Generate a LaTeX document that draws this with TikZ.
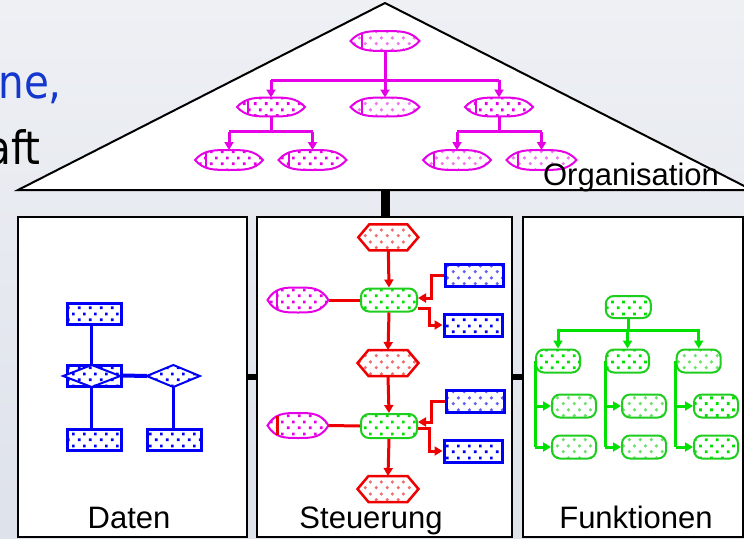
\documentclass[tikz,border=0pt]{standalone}
\usepackage{fontspec}
\setmainfont{Liberation Sans}
\newfontfamily\bgfont[FakeStretch=0.88]{DejaVu Sans}
\usetikzlibrary{arrows.meta,patterns.meta}

\definecolor{mag}{RGB}{230,0,230}
\definecolor{magl}{RGB}{240,120,240}
\definecolor{rd}{RGB}{238,0,0}
\definecolor{rdl}{RGB}{240,110,110}
\definecolor{bl}{RGB}{0,0,245}
\definecolor{bll}{RGB}{100,100,240}
\definecolor{gr}{RGB}{0,225,0}
\definecolor{grb}{RGB}{30,205,30}
\definecolor{grl}{RGB}{110,225,110}
\definecolor{txtblue}{RGB}{20,55,205}
\definecolor{bgtop}{RGB}{238,240,244}
\definecolor{bgbot}{RGB}{222,226,235}

\tikzdeclarepattern{
  name=sqdots, type=uncolored,
  bounding box={(0pt,0pt) and (11pt,12pt)},
  tile size={(11pt,12pt)},
  code={\fill (1pt,1pt) rectangle (3.9pt,3.9pt); \fill (6.5pt,7pt) rectangle (9.4pt,9.9pt);}
}
\tikzdeclarepattern{
  name=rdots, type=uncolored,
  bounding box={(0pt,0pt) and (11pt,12pt)},
  tile size={(11pt,12pt)},
  code={\fill (2.5pt,2.5pt) circle (1.9pt); \fill (8pt,8.5pt) circle (1.9pt);}
}

\tikzset{
  inv/.style={inner sep=0pt, outer sep=0pt, draw=none},
  box/.style={draw=black, fill=white, line width=2.5pt, inner sep=0pt},
  lbl/.style={anchor=base, inner sep=0pt, font=\fontsize{31}{36}\selectfont},
  arrowtip/.style={-{Triangle[width=9pt,length=8pt]}},
  mline/.style={draw=mag, line width=3pt},
  orgline/.style={draw=mag, line width=2pt},
  hexline/.style={draw=rd, line width=2.5pt, line join=miter},
  rline/.style={draw=rd, line width=3pt},
  gline/.style={draw=gr, line width=3pt},
  bline/.style={draw=bl, line width=2.5pt},
  dline/.style={draw=bl, line width=2pt},
  bnode/.style={draw=bl, line width=3pt, inner sep=0pt, minimum width=54pt, minimum height=21pt},
  bnodeS/.style={draw=bl, line width=3pt, inner sep=0pt, minimum width=58pt, minimum height=22pt},
  gnode/.style={draw=grb, line width=2pt, rounded corners=8pt, inner sep=0pt},
  mA/.style={pattern={sqdots}, pattern color=mag},
  mF/.style={pattern={rdots}, pattern color=magl},
  rF/.style={pattern={rdots}, pattern color=rdl},
  bA/.style={pattern={sqdots}, pattern color=bl},
  bF/.style={pattern={rdots}, pattern color=bll},
  gA/.style={pattern={sqdots}, pattern color=gr},
  gF/.style={pattern={rdots}, pattern color=grl},
}

% organisation unit: name, position, width, height, dot style
\newcommand\orgnode[5]{%
  \node[inv, minimum width=#3pt, minimum height=#4pt] (#1) at (#2) {};
  \path[orgline,#5] ([xshift=-0.5*#3pt]#1.center)
    .. controls ([xshift=-0.375*#3pt,yshift=0.5*#4pt]#1.center) and ([xshift=-0.22*#3pt,yshift=0.5*#4pt]#1.center) .. ([yshift=0.5*#4pt]#1.center)
    .. controls ([xshift=0.22*#3pt,yshift=0.5*#4pt]#1.center) and ([xshift=0.375*#3pt,yshift=0.5*#4pt]#1.center) .. ([xshift=0.5*#3pt]#1.center)
    .. controls ([xshift=0.375*#3pt,yshift=-0.5*#4pt]#1.center) and ([xshift=0.22*#3pt,yshift=-0.5*#4pt]#1.center) .. ([yshift=-0.5*#4pt]#1.center)
    .. controls ([xshift=-0.22*#3pt,yshift=-0.5*#4pt]#1.center) and ([xshift=-0.375*#3pt,yshift=-0.5*#4pt]#1.center) .. cycle;
  \draw[orgline] ([xshift=-0.34*#3pt,yshift=0.36*#4pt]#1.center) -- ([xshift=-0.34*#3pt,yshift=-0.36*#4pt]#1.center);
}
% event hexagon: name, position, width, height, dot style
\newcommand\hexnode[5]{%
  \node[inv, minimum width=#3pt, minimum height=#4pt] (#1) at (#2) {};
  \path[hexline,#5] (#1.west) -- ([xshift=11pt]#1.north west) -- ([xshift=-11pt]#1.north east)
    -- (#1.east) -- ([xshift=-11pt]#1.south east) -- ([xshift=11pt]#1.south west) -- cycle;
}
% relationship diamond: name, position, width, height
\newcommand\diamnode[4]{%
  \node[inv, minimum width=#3pt, minimum height=#4pt] (#1) at (#2) {};
  \path[dline, preaction={fill=white}, bA] (#1.north) -- (#1.east) -- (#1.south) -- (#1.west) -- cycle;
}

\begin{document}
\begin{tikzpicture}[x=1pt,y=-1pt]
\useasboundingbox (0,0) rectangle (744,538);
\shade[top color=bgtop, bottom color=bgbot] (0,0) rectangle (744,538);

% text of the slide behind
\node[anchor=base east, inner sep=0pt, text=txtblue, font=\bgfont\fontsize{46}{50}\selectfont] (bgA) at (62,98) {ne,};
\node[anchor=base east, inner sep=0pt, font=\bgfont\fontsize{46}{50}\selectfont] (bgB) at (41,164) {aft};

% roof
\coordinate (roofL) at (18,190);
\coordinate (roofT) at (385,3);
\coordinate (roofR) at (752,190);
\draw[fill=white, line width=2pt, line join=miter] (roofL) -- (roofT) -- (roofR) -- cycle;

% three boxes
\node[box, minimum width=229pt, minimum height=320pt] (daten) at (132.5,377) {};
\node[box, minimum width=255pt, minimum height=320pt] (steu) at (384.5,377) {};
\node[box, minimum width=220pt, minimum height=320pt] (funk) at (633,377) {};

\coordinate (roofbase) at (385,190);
\draw[line width=9pt] (roofbase) -- (roofbase |- steu.north);
\draw[line width=6pt] (daten.east) -- (steu.west);
\draw[line width=6pt] (steu.east) -- (funk.west);

% ---------- Organisation ----------
\orgnode{o0}{385,41}{69}{20}{mF}
\orgnode{o1}{271,107}{68}{19}{mA}
\orgnode{o2}{385,107}{69}{19}{mF}
\orgnode{o3}{499,107}{68}{19}{mA}
\orgnode{o4}{229,160}{68}{20}{mA}
\orgnode{o5}{312.5,160}{68}{20}{mA}
\orgnode{o6}{457,160}{68}{20}{mF}
\orgnode{o7}{541.5,160}{70}{20}{mF}
\coordinate (ob1) at (0,80);
\coordinate (ob2) at (0,131.5);
\draw[mline] (o0.south) -- (o0.south |- ob1);
\draw[mline] (o1.north |- ob1) -- (o3.north |- ob1);
\foreach \n in {o1,o2,o3} \draw[mline,arrowtip] (\n.north |- ob1) -- (\n.north);
\draw[mline] (o1.south) -- (o1.south |- ob2);
\draw[mline] (o4.north |- ob2) -- (o5.north |- ob2);
\draw[mline] (o3.south) -- (o3.south |- ob2);
\draw[mline] (o6.north |- ob2) -- (o7.north |- ob2);
\foreach \n in {o4,o5,o6,o7} \draw[mline,arrowtip] (\n.north |- ob2) -- (\n.north);

% ---------- Daten ----------
\node[bnode, bA] (d1) at (94.2,313.8) {};
\node[bnode, bA] (d2) at (94.2,375.5) {};
\diamnode{dd1}{91.7,376}{57}{22}
\diamnode{dd2}{173.3,376}{53}{22}
\node[bnode, bA] (d3) at (94.2,440) {};
\node[bnode, bA] (d4) at (174.5,440) {};
\draw[bline] (dd1.north |- d1.south) -- (dd1.north);
\draw[bline] (dd1.south) -- (dd1.south |- d3.north);
\draw[bline, line width=4pt] (d2.east) -- (dd2.west);
\draw[bline, line width=3.5pt] (dd2.south) -- (dd2.south |- d4.north);

% ---------- Steuerung ----------
\hexnode{h1}{388.3,237.3}{60}{26}{rF}
\node[gnode, minimum width=56pt, minimum height=23pt, gA] (f1) at (389,300) {};
\orgnode{m1}{298,300}{61}{25}{mA}
\node[bnodeS, bF] (r1) at (474.7,275) {};
\node[bnodeS, bA] (r2) at (473,325) {};
\hexnode{h2}{388,363}{61}{26}{rF}
\node[gnode, minimum width=56pt, minimum height=24pt, gA] (f2) at (389,426) {};
\orgnode{m2}{298,425.5}{61}{25}{mA}
\draw[rd, line width=2.5pt] ([xshift=-0.34*61pt,yshift=0.38*25pt]m2.center) -- ([xshift=-0.34*61pt,yshift=-0.38*25pt]m2.center);
\node[bnodeS, bF] (r3) at (475,401) {};
\node[bnodeS, bA] (r4) at (473,451) {};
\hexnode{h3}{388,489}{61}{26}{rF}

\coordinate (k1) at (431.5,298);
\coordinate (k2) at (429,308);
\coordinate (k3) at (431.5,422);
\coordinate (k4) at (429,428);
\draw[rline,arrowtip] (h1.south) -- (f1.north);
\draw[rline] (m1.east) -- (f1.west);
\draw[rline,arrowtip] (r1.west) -| (k1) -- (k1 -| f1.east);
\draw[rline,arrowtip] (f1.east |- k2) -- (k2) |- (r2.west);
\draw[rline,arrowtip] (f1.south) -- (h2.north);
\draw[rline,arrowtip] (h2.south) -- (f2.north);
\draw[rline] (m2.east) -- (f2.west);
\draw[rline,arrowtip] (r3.west) -| (k3) -- (k3 -| f2.east);
\draw[rline,arrowtip] (f2.east |- k4) -- (k4) |- (r4.west);
\draw[rline,arrowtip] (f2.south) -- (h3.north);

% ---------- Funktionen ----------
\node[gnode, minimum width=45pt, minimum height=22pt, gA] (g0) at (628.3,307) {};
\node[gnode, minimum width=44pt, minimum height=23pt, gA] (gA) at (558,361) {};
\node[gnode, minimum width=43pt, minimum height=23pt, gA] (gB) at (627.5,361) {};
\node[gnode, minimum width=44pt, minimum height=23pt, gF] (gC) at (698.7,361) {};
\node[gnode, minimum width=44pt, minimum height=23pt, gF] (gA1) at (574,406) {};
\node[gnode, minimum width=44pt, minimum height=23pt, gF] (gA2) at (574,447) {};
\node[gnode, minimum width=44pt, minimum height=23pt, gF] (gB1) at (644,406) {};
\node[gnode, minimum width=44pt, minimum height=23pt, gF] (gB2) at (644,447) {};
\node[gnode, minimum width=44pt, minimum height=23pt, gA] (gC1) at (716,406) {};
\node[gnode, minimum width=44pt, minimum height=23pt, gA] (gC2) at (716,447) {};
\coordinate (gbus) at (0,330);
\draw[gline] (g0.south) -- (g0.south |- gbus);
\draw[gline, line cap=rect] (gA.north |- gbus) -- (gC.north |- gbus);
\foreach \n in {gA,gB,gC} \draw[gline,arrowtip] (\n.north |- gbus) -- (\n.north);
\foreach \p in {A,B,C} {
  \draw[gline] (g\p.west) -- (g\p.west |- g\p2.west);
  \draw[gline,arrowtip] (g\p.west |- g\p1.west) -- (g\p1.west);
  \draw[gline,arrowtip] (g\p.west |- g\p2.west) -- (g\p2.west);
}

% labels
\node[lbl] (lblD) at (129,528) {Daten};
\node[lbl] (lblS) at (371,528) {Steuerung};
\node[lbl] (lblF) at (636,528) {Funktionen};
\node[lbl] (lblO) at (631,185) {Organisation};
\end{tikzpicture}
\end{document}
